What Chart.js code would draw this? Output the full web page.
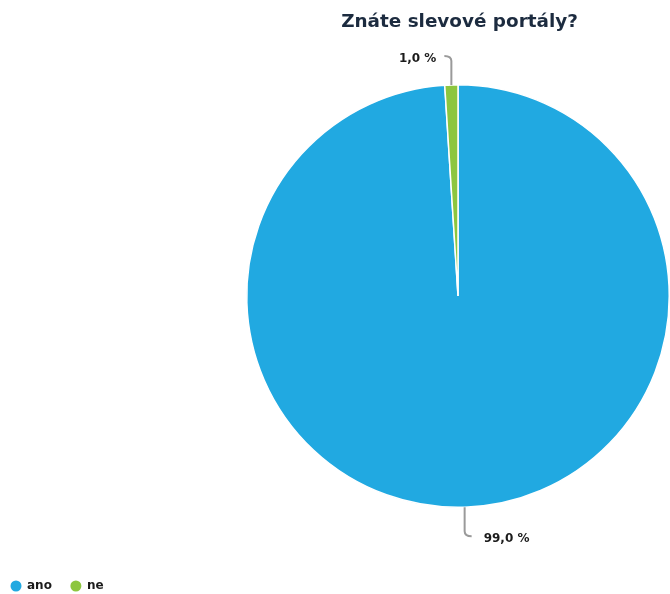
<!DOCTYPE html>
<html>
<head>
<meta charset="utf-8">
<script src="https://cdn.jsdelivr.net/npm/chart.js@4"></script>
<style>
  body { margin: 0; background: #fff; }
  #wrap { width: 670px; height: 594px; position: relative; }
</style>
</head>
<body>
<div id="wrap"><canvas id="slevy"></canvas></div>
<script>
const kategorie = ["ano", "ne"];
const hodnoty = [99.0, 1.0];
const barvy = ["#21a9e1", "#8dc63f"];

const textColor = "#1b1b1b";

// popisky s vodici carou
const popisky = {
  id: "popisky",
  afterDatasetsDraw(chart) {
    const ctx = chart.ctx;
    const meta = chart.getDatasetMeta(0);
    ctx.save();
    meta.data.forEach((arc, i) => {
      const p = arc.getProps(["x", "y", "startAngle", "endAngle", "outerRadius"], true);
      const mid = (p.startAngle + p.endAngle) / 2;
      const cos = Math.cos(mid), sin = Math.sin(mid);
      const x0 = p.x + cos * p.outerRadius;
      const y0 = p.y + sin * p.outerRadius;
      const up = sin < 0;
      const len = 29;
      const x1 = x0;
      const y1 = y0 + (up ? -len : len);
      const dir = cos < 0 ? -1 : 1;
      const x2 = x1 + dir * 7;
      ctx.strokeStyle = "#9a9a9a";
      ctx.lineWidth = 2;
      ctx.beginPath();
      ctx.moveTo(x0, y0);
      ctx.lineTo(x1, y1 + (up ? 5 : -5));
      ctx.quadraticCurveTo(x1, y1, x2, y1);
      ctx.stroke();
      ctx.fillStyle = textColor;
      ctx.font = "bold 12px 'DejaVu Sans'";
      ctx.textBaseline = "middle";
      ctx.textAlign = dir < 0 ? "right" : "left";
      const txt = hodnoty[i].toFixed(1).replace(".", ",") + " %";
      ctx.fillText(txt, x2 + dir * (dir < 0 ? 8 : 12), y1 + 3);
    });
    ctx.restore();
  }
};

// legenda vlevo dole
const legenda = {
  id: "legenda",
  afterDraw(chart) {
    const ctx = chart.ctx;
    ctx.save();
    ctx.font = "bold 12px 'DejaVu Sans'";
    ctx.textBaseline = "middle";
    ctx.textAlign = "left";
    let x = 10;
    const y = 586;
    kategorie.forEach((k, i) => {
      ctx.fillStyle = barvy[i];
      ctx.beginPath();
      ctx.arc(x + 6, y, 5.5, 0, Math.PI * 2);
      ctx.fill();
      ctx.fillStyle = textColor;
      ctx.fillText(k, x + 17, y);
      x += 17 + ctx.measureText(k).width + 18;
    });
    ctx.restore();
  }
};

new Chart(document.getElementById("slevy"), {
  type: "pie",
  data: {
    labels: kategorie,
    datasets: [
      {
        data: hodnoty,
        backgroundColor: barvy,
        borderColor: "#ffffff",
        borderWidth: 1.5,
        hoverOffset: 0,
      },
    ],
  },
  options: {
    responsive: true,
    maintainAspectRatio: false,
    animation: false,
    layout: {
      padding: { left: 246, right: -3, top: 0, bottom: 84 },
    },
    plugins: {
      legend: { display: false },
      tooltip: { enabled: false },
      title: {
        display: true,
        text: "Znáte slevové portály?",
        color: "#1c2b3f",
        font: { family: "DejaVu Sans", weight: "bold", size: 18.4 },
        padding: { top: 11, bottom: 49 },
      },
    },
  },
  plugins: [popisky, legenda],
});
</script>
</body>
</html>
